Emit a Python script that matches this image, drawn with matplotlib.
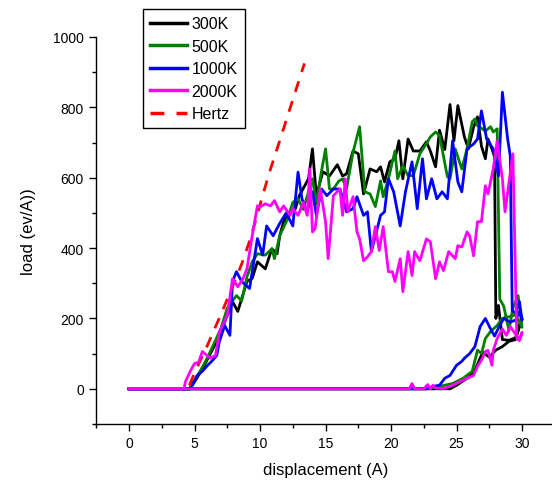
import matplotlib
matplotlib.use("Agg")
import matplotlib.pyplot as plt
from matplotlib.ticker import MultipleLocator

plt.rcParams['font.family'] = ['Liberation Sans', 'DejaVu Sans']

# load-displacement loops (loading branch then unloading branch)
x_300 = [0, 4.6, 5.0, 5.5, 6.0, 6.7, 7.5, 7.9, 8.3, 9.0, 9.4, 9.8, 10.4, 10.9, 11.3, 11.5, 11.8,
         12.3, 12.7, 13.0, 13.7, 14.0, 14.3, 14.8, 15.3, 15.9, 16.3, 16.6, 17.1, 17.5, 17.9, 18.4,
         18.9, 19.2, 19.5, 19.9, 20.3, 20.6, 20.9, 21.3, 21.7, 22.2, 22.7, 23.0, 23.4, 23.7, 24.1,
         24.5, 24.8, 25.1, 25.6, 25.9, 26.3, 26.6, 26.9, 27.2, 27.4, 27.7, 27.9, 28.0, 28.2, 28.5,
         29.0, 29.5, 29.8, 30.0,
         29.5, 29.0, 28.5, 28.0, 27.5, 27.0, 26.8, 26.3, 25.8, 25.0, 24.5, 0]
y_300 = [0, 0, 20, 50, 85, 135, 209, 248, 220, 305, 314, 361, 341, 398, 384, 435, 475,
         503, 512, 549, 597, 682, 549, 617, 605, 637, 605, 611, 676, 668, 554, 625,
         617, 631, 588, 645, 654, 705, 597, 710, 676, 676, 702, 676, 631, 735, 680,
         808, 705, 805, 716, 682, 744, 773, 690, 654, 710, 682, 660, 200, 237, 140,
         138, 145, 180, 200,
         140, 135, 120, 110, 90, 104, 87, 44, 30, 10, 0, 0]

x_500 = [0, 4.6, 5.0, 5.5, 6.0, 6.5, 7.0, 7.5, 8.2, 8.6, 9.0, 9.4, 9.8, 10.4, 10.9, 11.1, 11.5,
         12.1, 12.5, 12.9, 13.3, 13.7, 14.0, 14.3, 14.6, 15.0, 15.3, 15.6, 16.0, 16.3, 16.6, 17.1,
         17.6, 18.0, 18.4, 18.8, 19.2, 19.4, 19.8, 20.3, 20.5, 20.9, 21.3, 21.7, 22.2, 22.6, 23.0,
         23.4, 23.7, 24.3, 24.5, 24.9, 25.4, 25.8, 26.2, 26.4, 26.6, 27.2, 27.6, 27.8, 28.1, 28.3,
         28.6, 29.0, 29.3, 29.7, 30.0,
         29.5, 29.0, 28.5, 28.1, 27.6, 27.2, 26.9, 26.6, 26.2, 25.5, 24.7, 23.7, 22.7, 0]
y_500 = [0, 0, 25, 55, 90, 130, 170, 230, 265, 250, 318, 361, 384, 380, 398, 370, 435,
         483, 530, 540, 510, 560, 597, 525, 600, 682, 568, 568, 590, 597, 568, 673,
         745, 560, 554, 518, 591, 546, 597, 676, 597, 634, 606, 606, 668, 691, 716,
         730, 720, 603, 597, 682, 625, 682, 759, 767, 748, 733, 745, 730, 739, 255,
         235, 165, 230, 265, 175,
         210, 205, 200, 180, 163, 143, 100, 110, 50, 30, 15, 7, 0, 0]

x_1000 = [0, 4.7, 5.2, 5.6, 6.0, 6.3, 6.7, 6.9, 7.3, 7.7, 7.9, 8.2, 8.6, 9.2, 9.8, 10.2, 10.5,
          11.0, 11.5, 12.0, 12.5, 12.9, 13.2, 13.6, 14.0, 14.3, 14.7, 15.1, 15.6, 16.1, 16.6,
          17.1, 17.4, 17.9, 18.2, 18.5, 19.2, 19.5, 19.8, 20.2, 20.7, 21.1, 21.6, 22.0, 22.4,
          22.7, 23.1, 23.5, 23.9, 24.3, 24.7, 25.1, 25.4, 25.8, 26.3, 26.6, 26.9, 27.3, 27.8,
          28.2, 28.5, 28.9, 29.1, 29.25, 29.5, 29.8, 30.0,
          29.8, 29.5, 29.1, 28.6, 28.3, 27.9, 27.6, 27.2, 26.8, 26.4, 26.0, 25.6, 25.4, 25.0,
          24.5, 24.1, 23.7, 23.2, 22.7, 0]
y_1000 = [0, 0, 38, 50, 67, 78, 95, 135, 180, 152, 305, 333, 305, 285, 427, 380, 463,
          435, 470, 500, 463, 616, 540, 503, 560, 493, 568, 549, 568, 568, 503,
          512, 546, 493, 503, 390, 493, 503, 597, 560, 463, 560, 645, 512, 654,
          540, 597, 540, 560, 540, 705, 588, 560, 682, 696, 710, 790, 710, 682,
          605, 843, 710, 662, 222, 215, 248, 195,
          220, 195, 190, 200, 180, 150, 170, 200, 177, 120, 100, 87, 78, 67,
          38, 30, 10, 7, 0, 0]

x_2000 = [0, 4.2, 4.3, 4.7, 5.0, 5.3, 5.6, 6.2, 6.6, 6.9, 7.5, 7.9, 8.3, 8.7, 9.0, 9.4, 9.8,
          10.0, 10.4, 10.8, 11.1, 11.5, 11.8, 12.3, 12.5, 12.9, 13.3, 13.6, 13.8, 14.0, 14.2,
          14.6, 15.0, 15.2, 15.6, 16.1, 16.3, 16.5, 16.7, 17.1, 17.4, 17.6, 17.9, 18.2, 18.5,
          18.8, 19.1, 19.4, 19.8, 20.1, 20.3, 20.7, 20.9, 21.3, 21.6, 21.8, 22.2, 22.7, 23.0,
          23.4, 23.7, 24.0, 24.4, 24.9, 25.1, 25.4, 25.8, 26.0, 26.3, 26.6, 26.9, 27.2, 27.4,
          27.8, 28.1, 28.5, 28.7, 29.3, 29.6, 29.8, 30.0,
          29.8, 29.6, 29.1, 28.8, 28.5, 28.1, 27.8, 27.7, 27.4, 27.2, 26.9, 26.6, 26.3, 25.8,
          25.3, 24.7, 24.0, 23.4, 23.2, 23.0, 22.8, 22.5, 21.8, 21.6, 21.4, 0]
y_2000 = [0, 0, 20, 52, 72, 75, 106, 87, 95, 162, 209, 313, 290, 313, 341, 435, 520,
          517, 526, 520, 535, 503, 520, 493, 512, 493, 530, 493, 625, 446, 455,
          568, 475, 370, 549, 568, 493, 597, 503, 546, 446, 426, 364, 375, 390,
          461, 393, 461, 333, 333, 305, 370, 276, 390, 322, 390, 364, 426, 418,
          313, 361, 336, 390, 370, 407, 403, 446, 435, 378, 475, 475, 577, 554,
          625, 705, 597, 503, 668, 143, 138, 160,
          138, 150, 177, 152, 170, 143, 109, 67, 109, 106, 81, 64, 38, 30,
          21, 10, 1, 2, 10, 0, 12, 0, 0, 15, 0, 0]

# Hertz contact curve
x_hertz = [4.6, 5.0, 5.5, 6.0, 6.4, 7.0, 7.5, 8.0, 8.6, 9.2, 9.6, 10.2, 10.8, 11.5, 12.1,
           12.7, 13.3, 13.4]
y_hertz = [10, 45, 85, 125, 160, 210, 255, 300, 355, 420, 470, 550, 625, 705, 775,
           845, 915, 925]

W, H = 552, 485
fig = plt.figure(figsize=(W / 100, H / 100), dpi=100)
ax = fig.add_axes([96.3 / W, 60 / H, 458.5 / W, 387 / H])

lw = 2.0
ax.plot(x_300, y_300, color='black', lw=lw, label='300K', zorder=2)
ax.plot(x_500, y_500, color='#008000', lw=lw, label='500K', zorder=2.1)
ax.plot(x_1000, y_1000, color='#0000ff', lw=lw, label='1000K', zorder=2.2)
ax.plot(x_2000, y_2000, color='#ff00ff', lw=lw, label='2000K', zorder=2.4)
ax.plot(x_hertz, y_hertz, color='#ff0000', lw=lw, ls=(0, (4, 3.5)), label='Hertz', zorder=2.3)

ax.set_xlim(-2.5, 32.5)
ax.set_ylim(-100, 1000)
ax.xaxis.set_major_locator(MultipleLocator(5))
ax.xaxis.set_minor_locator(MultipleLocator(2.5))
ax.yaxis.set_major_locator(MultipleLocator(200))
ax.yaxis.set_minor_locator(MultipleLocator(100))
ax.set_xticks(range(0, 31, 5))
ax.set_yticks(range(0, 1001, 200))

for side in ('top', 'right'):
    ax.spines[side].set_visible(False)
for side in ('left', 'bottom'):
    ax.spines[side].set_linewidth(1.0)
ax.tick_params(which='major', direction='out', length=5, width=1.0, labelsize=10, pad=4)
ax.tick_params(which='minor', direction='out', length=3, width=1.0)

ax.set_xlabel('displacement (A)', fontsize=12, labelpad=8)
ax.set_ylabel('load (ev/A))', fontsize=12, labelpad=12)

leg = ax.legend(loc='upper left', bbox_to_anchor=(143 / W, 1 - 10 / H),
                bbox_transform=fig.transFigure, borderaxespad=0, fontsize=11.5,
                handlelength=2.3, handletextpad=0.3, labelspacing=0.47,
                borderpad=0.45, fancybox=False, framealpha=1)
leg.get_frame().set_edgecolor('black')
leg.get_frame().set_linewidth(1.0)
for line in leg.get_lines():
    line.set_linewidth(2.5)

fig.savefig('out.png', dpi=100)
